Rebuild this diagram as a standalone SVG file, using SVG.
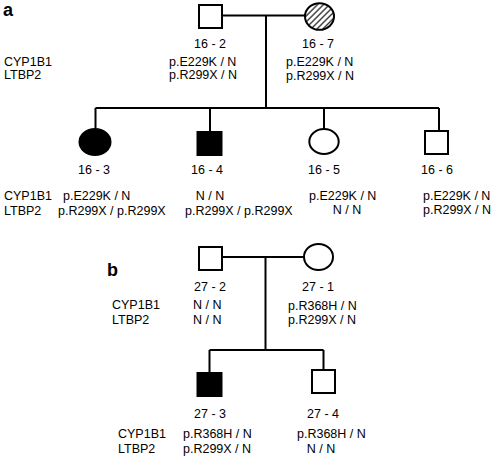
<svg xmlns="http://www.w3.org/2000/svg" width="495" height="457" viewBox="0 0 495 457">
<defs>
<pattern id="hatch" width="4.2" height="4.2" patternUnits="userSpaceOnUse" patternTransform="rotate(45)">
<line x1="1" y1="0" x2="1" y2="4.2" stroke="#000" stroke-width="1.1"/>
</pattern>
</defs>
<style>
text{font-family:"Liberation Sans",Arial,sans-serif;font-size:12.5px;fill:#000}
.c{text-anchor:middle}
.lbl{font-weight:bold;font-size:18px}
.sh{stroke:#000;stroke-width:2;fill:#fff}
.aff{fill:#000}
.ln{stroke:#000;stroke-width:2;fill:none}
</style>
<rect width="495" height="457" fill="#fff"/>
<text class="lbl" x="3" y="16">a</text>
<text class="lbl" x="107" y="276">b</text>
<g id="connectors">
<path class="ln" d="M222 15.5H305M266 15.5V108M95.5 108H439M95.5 108V129M210 108V132M324 108V129M439 108V131"/>
<path class="ln" d="M222 257H304M265.5 257V350M209.5 350H323.5M209.5 350V373M323.5 350V370"/>
</g>
<g id="genes-a">
<text x="4" y="66">CYP1B1</text>
<text x="4" y="79">LTBP2</text>
</g>
<g id="n16-2">
<rect class="sh" x="199" y="5" width="23" height="23"/>
<text class="c" x="210" y="48">16 - 2</text>
<text x="169" y="66">p.E229K / N</text>
<text x="169" y="79">p.R299X / N</text>
</g>
<g id="n16-7">
<ellipse class="sh" cx="319.5" cy="16.5" rx="14.5" ry="13.3" style="fill:url(#hatch)"/>
<text class="c" x="318" y="48">16 - 7</text>
<text x="286" y="66">p.E229K / N</text>
<text x="286" y="80">p.R299X / N</text>
</g>
<g id="genes-a2">
<text x="4" y="200">CYP1B1</text>
<text x="4" y="215">LTBP2</text>
</g>
<g id="n16-3">
<ellipse class="sh aff" cx="95" cy="142" rx="15.5" ry="13"/>
<text class="c" x="94" y="174">16 - 3</text>
<text x="63" y="200">p.E229K / N</text>
<text x="58" y="215">p.R299X / p.R299X</text>
</g>
<g id="n16-4">
<rect class="sh aff" x="197.5" y="132" width="24" height="23"/>
<text class="c" x="207" y="174">16 - 4</text>
<text class="c" x="210" y="200">N / N</text>
<text x="185" y="215">p.R299X / p.R299X</text>
</g>
<g id="n16-5">
<ellipse class="sh" cx="324" cy="141.5" rx="14.7" ry="12.5"/>
<text class="c" x="324" y="174">16 - 5</text>
<text x="309" y="200">p.E229K / N</text>
<text class="c" x="347" y="214">N / N</text>
</g>
<g id="n16-6">
<rect class="sh" x="425" y="131" width="23" height="23"/>
<text class="c" x="437" y="174">16 - 6</text>
<text x="423" y="200">p.E229K / N</text>
<text x="423" y="214">p.R299X / N</text>
</g>
<g id="genes-b">
<text x="112" y="309">CYP1B1</text>
<text x="112" y="324">LTBP2</text>
</g>
<g id="n27-2">
<rect class="sh" x="199" y="247" width="23" height="23"/>
<text class="c" x="210" y="291">27 - 2</text>
<text x="193" y="309">N / N</text>
<text x="193" y="324">N / N</text>
</g>
<g id="n27-1">
<ellipse class="sh" cx="318.5" cy="257" rx="14.5" ry="13"/>
<text class="c" x="318" y="291">27 - 1</text>
<text x="288" y="310">p.R368H / N</text>
<text x="288" y="324">p.R299X / N</text>
</g>
<g id="genes-b2">
<text x="118" y="438">CYP1B1</text>
<text x="118" y="453">LTBP2</text>
</g>
<g id="n27-3">
<rect class="sh aff" x="197.5" y="373" width="24" height="23"/>
<text class="c" x="210" y="418">27 - 3</text>
<text x="183" y="438">p.R368H / N</text>
<text x="183" y="453">p.R299X / N</text>
</g>
<g id="n27-4">
<rect class="sh" x="312" y="370" width="23" height="23"/>
<text class="c" x="323" y="418">27 - 4</text>
<text x="297" y="438">p.R368H / N</text>
<text class="c" x="321" y="453">N / N</text>
</g>
</svg>
